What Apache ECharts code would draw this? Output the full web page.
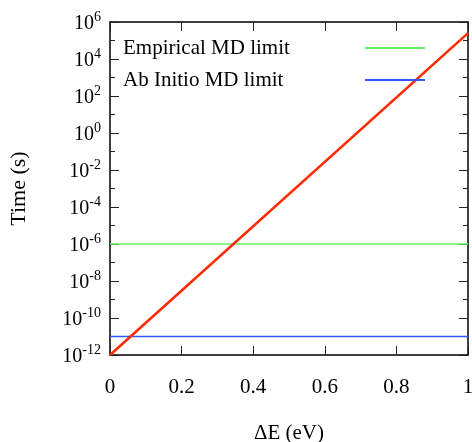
<!DOCTYPE html>
<html><head><meta charset="utf-8">
<script src="https://cdn.jsdelivr.net/npm/echarts@6/dist/echarts.min.js"></script>
<style>html,body{margin:0;padding:0;background:#fff}#c{width:472px;height:442px}</style>
</head><body><div id="c"></div>
<script>
const xRange = [0, 1];
const xTicks = [0, 0.2, 0.4, 0.6, 0.8, 1];
const yRange = [1e-12, 1e6];
const timeScaleE = [0, 1];            // ΔE (eV) endpoints of red line
const timeScaleT = [1e-12, 2.5e5];    // time (s) at those endpoints
const empiricalLimit = 1e-6;
const abInitioLimit = 1e-11;
const legendNames = ['Empirical MD limit', 'Ab Initio MD limit'];

const FONT = 'Liberation Serif';
const chart = echarts.init(document.getElementById('c'), null, {renderer: 'canvas'});
const supFmt = v => {
  const e = Math.round(Math.log10(v));
  return '{b|10}{s|' + e + '}';
};
const rich = {
  b: {fontFamily: FONT, fontSize: 20, color: '#000', verticalAlign: 'bottom', lineHeight: 24},
  s: {fontFamily: FONT, fontSize: 14, color: '#000', verticalAlign: 'top', lineHeight: 24, padding:[0,0,9,0]}
};
const tickCol = '#222';
const baseLine = {show: true, lineStyle: {color: '#000', width: 1.5}};
function yAx(pos, major) {
  return {
    type: 'log', logBase: 10, min: yRange[0], max: yRange[1], interval: major ? 2 : 1, position: pos,
    axisLine: major ? baseLine : {show: false},
    splitLine: {show: false},
    axisTick: {show: true, inside: true, length: major ? 9 : 5, lineStyle: {color: tickCol, width: 1}},
    axisLabel: {show: false}
  };
}
const yMain = yAx('left', true);
yMain.axisLabel = {show: true, margin: 9, formatter: supFmt, rich: rich};
yMain.name = 'Time (s)';
yMain.nameLocation = 'middle';
yMain.nameGap = 80;
yMain.nameRotate = 90;
yMain.nameTextStyle = {fontFamily: FONT, fontSize: 22, color: '#000'};

// legend: text left, line sample right, as in the reference
const LEG_FS = 21;
const mctx = document.createElement('canvas').getContext('2d');
mctx.font = LEG_FS + 'px "' + FONT + '"';
const legendData = legendNames.map(n => ({
  name: n,
  textStyle: {padding: [0, Math.max(0, 237 - mctx.measureText(n).width), 0, 0]}
}));

chart.setOption({
  animation: false,
  grid: {left: 110, top: 22, right: 4, bottom: 87, outerBoundsMode: 'none'},
  legend: {
    left: 123, top: 37, orient: 'vertical', align: 'right', padding: 0,
    itemWidth: 60, itemHeight: 2, itemGap: 10, icon: 'rect',
    data: legendData,
    textStyle: {fontFamily: FONT, fontSize: LEG_FS, color: '#000', lineHeight: 22}
  },
  xAxis: [{
    type: 'value', min: xRange[0], max: xRange[1], interval: 0.2,
    axisLine: baseLine, splitLine: {show: false},
    axisTick: {show: true, inside: true, length: 9, lineStyle: {color: tickCol}},
    axisLabel: {fontFamily: FONT, fontSize: 21, color: '#000', margin: 22,
      formatter: v => xTicks.includes(+v.toFixed(1)) ? String(+v.toFixed(1)) : ''},
    name: 'ΔE (eV)', nameLocation: 'middle', nameGap: 68,
    nameTextStyle: {fontFamily: FONT, fontSize: 21, color: '#000'}
  }, {
    type: 'value', position: 'top', min: xRange[0], max: xRange[1], interval: 0.2,
    axisLine: baseLine, splitLine: {show: false},
    axisTick: {show: true, inside: true, length: 9, lineStyle: {color: tickCol}},
    axisLabel: {show: false}
  }],
  yAxis: [yMain, yAx('left', false), yAx('right', true), yAx('right', false)],
  series: [{
    name: legendNames[0], type: 'line', symbol: 'none',
    lineStyle: {color: '#66ee66', width: 1.3}, itemStyle: {color: '#66ee66'},
    data: xRange.map(x => [x, empiricalLimit]), z: 2
  }, {
    name: legendNames[1], type: 'line', symbol: 'none',
    lineStyle: {color: '#2f55ff', width: 1.3}, itemStyle: {color: '#2f55ff'},
    data: xRange.map(x => [x, abInitioLimit]), z: 2
  }, {
    name: 'rate', type: 'line', symbol: 'none',
    lineStyle: {color: '#ff2a00', width: 2.6},
    data: timeScaleE.map((e, i) => [e, timeScaleT[i]]), z: 3
  }]
});
</script></body></html>
